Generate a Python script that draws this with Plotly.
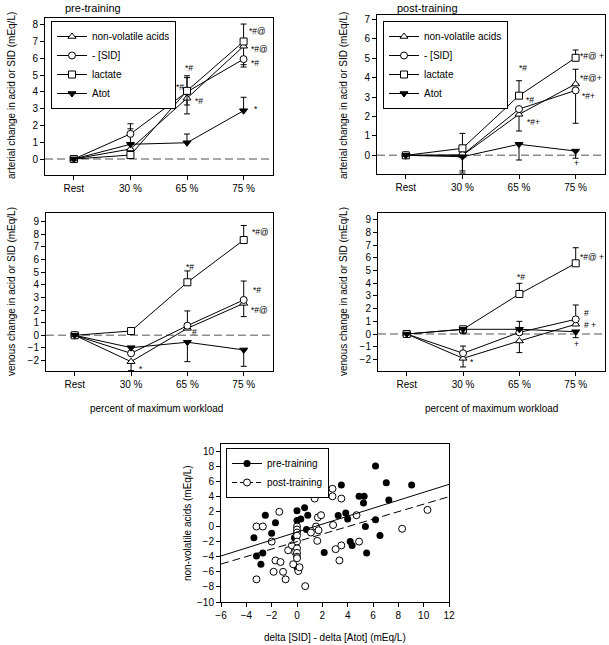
import numpy as np
import plotly.graph_objects as go

W, H = 609, 645

# ---------------- data ----------------
categories = ["Rest", "30 %", "65 %", "75 %"]
series_names = ["non-volatile acids", "- [SID]", "lactate", "Atot"]

# pre-training, arterial
pre_art_nva = [0, 0.6, 3.62, 6.72]
pre_art_sid = [0, 1.5, 4.0, 5.95]
pre_art_lac = [0, 0.24, 4.06, 7.0]
pre_art_atot = [0, 0.88, 0.97, 2.88]
pre_art_up = [[0.12, 1.2, 0, 0], [0.1, 0.6, 0.85, 0], [0.1, 0, 0.9, 1.04], [0.1, 0, 0.52, 0.8]]
pre_art_dn = [[0.12, 0, 0.93, 1.1], [0.1, 0, 0, 0.47], [0.1, 0.15, 0.84, 0], [0.1, 0, 0, 0]]

# post-training, arterial
post_art_nva = [0, 0.0, 2.11, 3.67]
post_art_sid = [0, 0.02, 2.38, 3.34]
post_art_lac = [0, 0.36, 3.07, 5.02]
post_art_atot = [0, -0.07, 0.57, 0.22]
post_art_up = [[0.05, 0, 0, 0.76], [0.05, 0, 0, 0], [0.05, 0.77, 0.77, 0.4], [0.05, 0, 0, 0]]
post_art_dn = [[0.05, 0.8, 0.86, 0], [0.05, 0, 0, 1.69], [0.05, 0, 0, 0], [0.05, 0.84, 0.81, 0.37]]

# pre-training, venous
pre_ven_nva = [0, -2.09, 0.55, 2.53]
pre_ven_sid = [0, -1.43, 0.76, 2.8]
pre_ven_lac = [0, 0.34, 4.2, 7.55]
pre_ven_atot = [0, -0.98, -0.55, -1.16]
pre_ven_up = [[0.1, 0, 0, 0], [0.1, 0, 1.17, 1.5], [0.1, 0, 0.9, 1.15], [0.1, 0, 0, 0]]
pre_ven_dn = [[0.1, 0.71, 0, 1.05], [0.1, 0, 0, 0], [0.1, 0, 0, 0], [0.1, 0, 1.54, 1.3]]

# post-training, venous
post_ven_nva = [0, -1.92, -0.55, 0.77]
post_ven_sid = [0, -1.52, 0.13, 1.16]
post_ven_lac = [0, 0.37, 3.16, 5.58]
post_ven_atot = [0, 0.37, 0.37, 0.18]
post_ven_up = [[0.05, 0, 0, 0], [0.05, 0.57, 0.87, 1.13], [0.05, 0, 0.84, 1.23], [0.05, 0, 0, 0]]
post_ven_dn = [[0.05, 0.68, 0.92, 0], [0.05, 0, 0, 0], [0.05, 0, 0, 0], [0.05, 0.35, 0, 0.47]]

# significance labels: (text, category position of left edge, value)
pre_art_labels = [("*#@", 3.08, 7.6), ("*#@", 3.12, 6.57), ("*#", 3.12, 5.71),
                  ("*#", 1.95, 5.41), ("*#", 1.78, 4.32), ("*#", 2.12, 3.46), ("*", 3.16, 2.97)]
post_art_labels = [("*#", 1.98, 4.48), ("*#", 2.1, 2.85), ("*#+", 2.12, 1.7),
                   ("*#@ +", 3.06, 5.13), ("*#@+", 3.06, 3.96), ("*#+", 3.1, 3.05), ("+", 2.96, -0.41)]
pre_ven_labels = [("*#@", 3.13, 8.16), ("*#", 1.95, 5.44), ("*#", 3.14, 3.59),
                  ("*#@", 3.12, 2.0), ("#", 2.07, 0.29), ("*", 1.13, -2.67)]
post_ven_labels = [("*#", 1.94, 4.52), ("*#@ +", 3.06, 6.1), ("#", 3.13, 1.63),
                   ("# +", 3.13, 0.71), ("+", 2.96, -0.81), ("*", 1.1, -2.19)]

# scatter: delta[SID]-delta[Atot] vs non-volatile acids
pre_x = [-3.4, -2.5, -3.2, -2.85, -2.7, -1.7, -2.0, 0.0, 0.0, 0.3, 0.6, 0.85, 0.75, -0.2, 0.0,
         2.15, 3.25, 3.5, 3.85, 4.0, 4.2, 4.35, 4.9, 5.3, 5.25, 5.4, 5.5, 6.2, 6.2, 6.55, 7.05, 7.25, 9.05]
pre_y = [-1.5, 1.5, -3.9, -5.0, -3.5, 0.5, -0.9, 2.1, 0.8, 1.0, 2.5, 1.5, -0.4, -1.5, -5.4,
         -3.45, 1.45, 5.5, 1.8, 1.0, -2.0, -2.5, 4.0, 4.0, 3.1, 0.0, -3.5, 8.0, 0.9, -1.2, 5.8, 3.5, 5.5]
post_x = [-3.2, -3.2, -2.7, -1.4, -2.0, -1.7, -1.3, -1.85, -1.1, -0.9, -0.7, -0.4, -0.3, -0.15,
          0.0, 0.0, 0.0, 0.0, 0.0, 0.0, 0.0, 0.0, 0.0, 0.1, 0.2, 0.6, 0.65, 1.1, 1.4, 1.5, 1.65,
          1.9, 1.7, 1.6, 2.8, 2.8, 2.85, 3.05, 3.35, 3.5, 3.5, 4.7, 4.9, 8.3, 10.3]
post_y = [-7.0, 0.0, 0.0, 1.95, -2.0, -4.5, -4.7, -6.0, -6.0, -7.0, -3.15, -2.5, -5.0, -3.4,
          0.0, -0.4, -0.8, -1.2, -2.0, -2.9, -3.5, -4.0, -4.2, -5.9, -5.4, 5.0, -7.9, -0.8, 3.7, 0.0, 1.2,
          1.5, -0.5, -1.9, 5.0, 4.0, 0.2, -3.0, -4.5, 3.7, -2.5, 1.5, -2.0, -0.3, 2.2]
pre_fit = (0.527, -0.74)    # slope, intercept
post_fit = (0.496, -2.0)

# ---------------- layout helpers ----------------
FONT = "Liberation Sans, Arial, sans-serif"


def px_x(p):
    return p / W


def px_y(p):
    return 1 - p / H


fig = go.Figure()

symbols = ["triangle-up", "circle", "square", "triangle-down"]
fills = ["white", "white", "white", "black"]
panels = [
    ("x", "y", [pre_art_nva, pre_art_sid, pre_art_lac, pre_art_atot], pre_art_up, pre_art_dn, "legend", True),
    ("x2", "y2", [post_art_nva, post_art_sid, post_art_lac, post_art_atot], post_art_up, post_art_dn, "legend2", True),
    ("x3", "y3", [pre_ven_nva, pre_ven_sid, pre_ven_lac, pre_ven_atot], pre_ven_up, pre_ven_dn, "legend", False),
    ("x4", "y4", [post_ven_nva, post_ven_sid, post_ven_lac, post_ven_atot], post_ven_up, post_ven_dn, "legend2", False),
]
xs = list(range(len(categories)))
for xa, ya, vals, ups, dns, leg, show in panels:
    for i, (name, v) in enumerate(zip(series_names, vals)):
        fig.add_trace(go.Scatter(
            x=xs, y=v, name=name, mode="lines+markers", xaxis=xa, yaxis=ya,
            legend=leg, showlegend=show,
            line=dict(color="black", width=1),
            marker=dict(symbol=symbols[i], size=7, color=fills[i],
                        line=dict(color="black", width=1)),
            error_y=dict(type="data", symmetric=False, array=ups[i], arrayminus=dns[i],
                         color="black", thickness=1, width=3),
        ))

# scatter panel
fig.add_trace(go.Scatter(x=pre_x, y=pre_y, mode="markers", xaxis="x5", yaxis="y5", showlegend=False,
                         marker=dict(symbol="circle", size=7, color="black")))
fig.add_trace(go.Scatter(x=post_x, y=post_y, mode="markers", xaxis="x5", yaxis="y5", showlegend=False,
                         marker=dict(symbol="circle", size=7, color="white", line=dict(color="black", width=1))))
fx = np.array([-6, 12])
fig.add_trace(go.Scatter(x=fx, y=pre_fit[0] * fx + pre_fit[1], mode="lines", xaxis="x5", yaxis="y5",
                         showlegend=False, line=dict(color="black", width=1)))
fig.add_trace(go.Scatter(x=fx, y=post_fit[0] * fx + post_fit[1], mode="lines", xaxis="x5", yaxis="y5",
                         showlegend=False, line=dict(color="black", width=1, dash="8px,4px")))
# legend entries for scatter
fig.add_trace(go.Scatter(x=[None], y=[None], mode="lines+markers", name="pre-training", xaxis="x5", yaxis="y5",
                         legend="legend3", line=dict(color="black", width=1),
                         marker=dict(symbol="circle", size=7, color="black")))
fig.add_trace(go.Scatter(x=[None], y=[None], mode="lines+markers", name="post-training", xaxis="x5", yaxis="y5",
                         legend="legend3", line=dict(color="black", width=1, dash="5px,3px"),
                         marker=dict(symbol="circle", size=7, color="white", line=dict(color="black", width=1))))

axis_common = dict(showline=True, linecolor="black", linewidth=1, mirror=True, ticks="outside",
                   ticklen=4, tickcolor="black", tickwidth=1, showgrid=False, zeroline=False,
                   automargin=False,
                   tickfont=dict(size=10, color="black", family=FONT))

boxes = {
    "1": (45, 273, 18, 175, [-0.95, 8.4], list(range(0, 9))),
    "2": (377, 605, 15, 174, [-0.96, 7.22], list(range(0, 8))),
    "3": (46, 273, 213, 371, [-2.83, 9.69], list(range(-2, 10))),
    "4": (378, 605, 213, 371, [-2.92, 9.55], list(range(-2, 10))),
}
lay = {}
for k, (l, r, t, b, yr, yt) in boxes.items():
    sx = "xaxis" if k == "1" else "xaxis" + k
    sy = "yaxis" if k == "1" else "yaxis" + k
    lay[sx] = dict(axis_common, domain=[px_x(l), px_x(r)], range=[-0.51, 3.52],
                   tickvals=xs, ticktext=categories, anchor="y" if k == "1" else "y" + k)
    lay[sy] = dict(axis_common, domain=[px_y(b), px_y(t)], range=yr, tickvals=yt,
                   anchor="x" if k == "1" else "x" + k)

lay["xaxis5"] = dict(axis_common, domain=[px_x(221), px_x(449)], range=[-6, 12],
                     tickvals=list(range(-6, 13, 2)), anchor="y5")
lay["yaxis5"] = dict(axis_common, domain=[px_y(602), px_y(444)], range=[-10, 10.93],
                     tickvals=list(range(-10, 11, 2)), anchor="x5")

leg_common = dict(xanchor="left", yanchor="top", bordercolor="black", borderwidth=1, bgcolor="white",
                  font=dict(size=10, family=FONT, color="black"), itemwidth=30, tracegroupgap=0,
                  traceorder="normal")

fig.update_layout(
    width=W, height=H, margin=dict(l=0, r=0, t=0, b=0, pad=0, autoexpand=False),
    paper_bgcolor="white", plot_bgcolor="white",
    font=dict(family=FONT, size=10, color="black"),
    legend=dict(leg_common, x=px_x(51), y=px_y(21)),
    legend2=dict(leg_common, x=px_x(383), y=px_y(21)),
    legend3=dict(leg_common, x=px_x(226), y=px_y(448)),
    **lay,
)

# zero reference lines
for k in ["", "2", "3", "4"]:
    fig.add_shape(type="line", xref=f"x{k} domain", yref=f"y{k}", x0=0, x1=1, y0=0, y1=0,
                  line=dict(color="#8c8c8c", width=1.5, dash="8px,4px"), layer="below")

# significance labels
for k, labels in zip(["", "2", "3", "4"], [pre_art_labels, post_art_labels, pre_ven_labels, post_ven_labels]):
    for txt, xv, yv in labels:
        fig.add_annotation(text=txt, x=xv, y=yv, xref=f"x{k}", yref=f"y{k}", showarrow=False,
                           xanchor="left", yanchor="middle", borderpad=0,
                           font=dict(size=8.5, family=FONT, color="black"))

# titles and axis titles
texts = [
    ("pre-training", 93, 8, 0, 11),
    ("post-training", 427, 8, 0, 11),
    ("arterial change in acid or SID (mEq/L)", 11, 96, -90, 10),
    ("arterial change in acid or SID (mEq/L)", 343, 96, -90, 10),
    ("venous change in acid or SID (mEq/L)", 11, 292, -90, 10),
    ("venous change in acid or SID (mEq/L)", 343, 292, -90, 10),
    ("percent of maximum workload", 156, 409, 0, 10),
    ("percent of maximum workload", 491, 409, 0, 10),
    ("non-volatile acids (mEq/L)", 187, 523, -90, 10),
    ("delta [SID] - delta [Atot] (mEq/L)", 335, 637, 0, 10),
]
for txt, xp, yp, ang, fs in texts:
    fig.add_annotation(text=txt, x=px_x(xp), y=px_y(yp), xref="paper", yref="paper", showarrow=False,
                       textangle=ang, xanchor="center", yanchor="middle",
                       font=dict(size=fs, family=FONT, color="black"))

fig.write_html("out.html", config={"displayModeBar": False},
               post_script="document.body.style.margin='0';document.body.style.padding='0';"
                           "document.documentElement.style.overflow='hidden';")
